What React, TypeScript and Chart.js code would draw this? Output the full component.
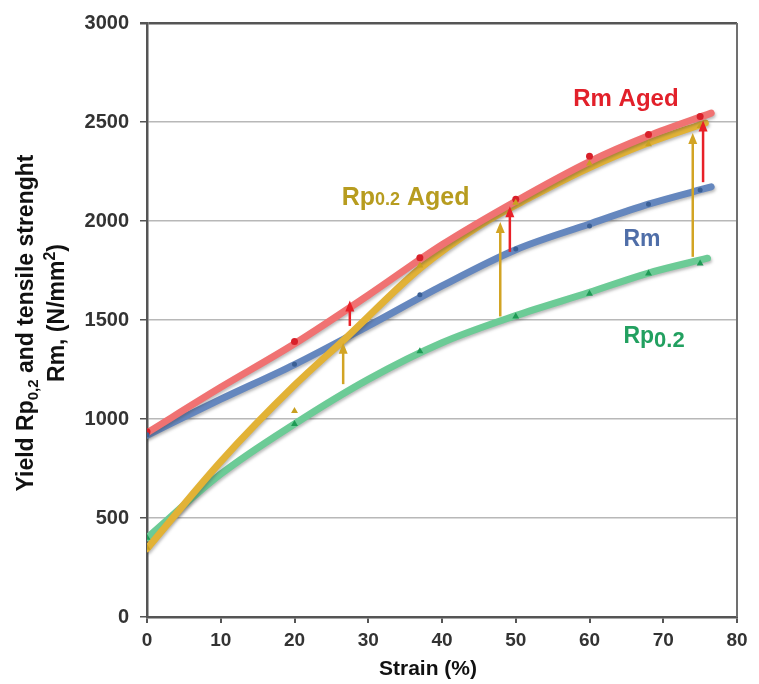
import React, { useEffect, useRef } from 'react';
import { Chart, registerables } from 'chart.js';

Chart.register(...registerables);

// ---------- data ----------
const X_MIN = 0;
const X_MAX = 80;
const X_STEP = 10;
const Y_MIN = 0;
const Y_MAX = 3000;
const Y_STEP = 500;

// fitted curves
const RM_AGED_CURVE_X = [0, 10, 20, 30, 40, 50, 60, 68, 76.5];
const RM_AGED_CURVE_Y = [930, 1160, 1380, 1625, 1880, 2100, 2300, 2430, 2545];

const RM_CURVE_X = [0, 10, 20, 30, 40, 50, 60, 68, 76.5];
const RM_CURVE_Y = [918, 1100, 1275, 1470, 1672, 1855, 1985, 2085, 2172];

const RP_AGED_CURVE_X = [0, 10, 20, 27, 37, 45, 52, 60, 68, 75.7];
const RP_AGED_CURVE_Y = [345, 785, 1170, 1410, 1760, 1975, 2120, 2270, 2395, 2495];

const RP_CURVE_X = [0, 10, 20, 30, 40, 50, 60, 68, 76];
const RP_CURVE_Y = [400, 722, 975, 1200, 1385, 1522, 1640, 1737, 1812];

// measured points
const RM_AGED_PTS_X = [0, 20, 37, 50, 60, 68, 75];
const RM_AGED_PTS_Y = [935, 1392, 1815, 2110, 2327, 2437, 2528];

const RM_PTS_X = [0, 20, 37, 50, 60, 68, 75];
const RM_PTS_Y = [920, 1276, 1628, 1859, 1975, 2085, 2156];

const RP_AGED_PTS_X = [0, 20, 37, 50, 60, 68, 75];
const RP_AGED_PTS_Y = [350, 1040, 1775, 2092, 2290, 2388, 2480];

const RP_PTS_X = [0, 20, 37, 50, 60, 68, 75];
const RP_PTS_Y = [400, 975, 1342, 1518, 1633, 1735, 1785];

// ageing arrows
const GOLD_ARROW_X = [26.6, 47.9, 74.0];
const GOLD_ARROW_FROM = [1176, 1518, 1819];
const GOLD_ARROW_TO = [1385, 1995, 2445];

const RED_ARROW_X = [27.5, 49.2, 75.4];
const RED_ARROW_FROM = [1470, 1844, 2196];
const RED_ARROW_TO = [1598, 2075, 2508];

// labels
const X_TITLE = 'Strain (%)';
const Y_TITLE_LINE1 = [
  { t: 'Yield Rp', sub: false },
  { t: '0,2', sub: true },
  { t: ' and tensile strenght', sub: false },
];
const Y_TITLE_LINE2 = [
  { t: 'Rm, (N/mm', sup: false },
  { t: '2', sup: true },
  { t: ')', sup: false },
];

const COLORS = {
  rmAged: '#f07272',
  rmAgedPt: '#d8202a',
  rm: '#6587be',
  rmPt: '#3a5f95',
  rpAged: '#e2b236',
  rpAgedPt: '#c9a020',
  rp: '#6ccb96',
  rpPt: '#1e9a55',
  redArrow: '#e82028',
  goldArrow: '#d2a424',
  redText: '#e2202a',
  goldText: '#b79c1f',
  blueText: '#4f6ea8',
  greenText: '#22a060',
};

const FONT = '"Liberation Sans", Arial, sans-serif';

function zip(xs: number[], ys: number[]) {
  return xs.map((x, i) => ({ x, y: ys[i] }));
}

const overlayPlugin = {
  id: 'overlay',
  beforeDatasetDraw(chart: any, args: any) {
    const ds = chart.data.datasets[args.index];
    if (ds.shadow) {
      const ctx = chart.ctx;
      ctx.save();
      ctx.shadowColor = 'rgba(60,60,60,0.35)';
      ctx.shadowBlur = 3;
      ctx.shadowOffsetX = 1;
      ctx.shadowOffsetY = 2;
    }
  },
  afterDatasetDraw(chart: any, args: any) {
    const ds = chart.data.datasets[args.index];
    if (ds.shadow) chart.ctx.restore();
  },
  afterDatasetsDraw(chart: any) {
    const ctx = chart.ctx;
    const xs = chart.scales.x;
    const ys = chart.scales.y;
    const ca = chart.chartArea;

    // right border
    ctx.save();
    ctx.strokeStyle = '#707070';
    ctx.lineWidth = 2;
    ctx.beginPath();
    ctx.moveTo(ca.right, ca.top);
    ctx.lineTo(ca.right, ca.bottom);
    ctx.stroke();
    ctx.restore();

    const drawArrow = (x: number, y0: number, y1: number, color: string) => {
      const px = xs.getPixelForValue(x);
      const p0 = ys.getPixelForValue(y0);
      const p1 = ys.getPixelForValue(y1);
      ctx.save();
      ctx.strokeStyle = color;
      ctx.fillStyle = color;
      ctx.lineWidth = 2.5;
      ctx.beginPath();
      ctx.moveTo(px, p0);
      ctx.lineTo(px, p1 + 9);
      ctx.stroke();
      ctx.beginPath();
      ctx.moveTo(px, p1);
      ctx.lineTo(px - 4.5, p1 + 11);
      ctx.lineTo(px + 4.5, p1 + 11);
      ctx.closePath();
      ctx.fill();
      ctx.restore();
    };
    GOLD_ARROW_X.forEach((x, i) => drawArrow(x, GOLD_ARROW_FROM[i], GOLD_ARROW_TO[i], COLORS.goldArrow));
    RED_ARROW_X.forEach((x, i) => drawArrow(x, RED_ARROW_FROM[i], RED_ARROW_TO[i], COLORS.redArrow));

    // series labels
    const drawSegs = (
      xVal: number,
      yVal: number,
      segs: { t: string; size: number; dy: number }[],
      color: string
    ) => {
      let px = xs.getPixelForValue(xVal);
      const py = ys.getPixelForValue(yVal);
      ctx.save();
      ctx.fillStyle = color;
      ctx.textBaseline = 'alphabetic';
      ctx.textAlign = 'left';
      segs.forEach((s) => {
        ctx.font = `bold ${s.size}px ${FONT}`;
        ctx.fillText(s.t, px, py + s.dy);
        px += ctx.measureText(s.t).width;
      });
      ctx.restore();
    };
    drawSegs(57.8, 2580, [{ t: 'Rm Aged', size: 24, dy: 0 }], COLORS.redText);
    drawSegs(26.4, 2080, [
      { t: 'Rp', size: 25, dy: 0 },
      { t: '0.2', size: 18, dy: 0 },
      { t: ' Aged', size: 25, dy: 0 },
    ], COLORS.goldText);
    drawSegs(64.6, 1875, [{ t: 'Rm', size: 23, dy: 0 }], COLORS.blueText);
    drawSegs(64.6, 1385, [
      { t: 'Rp', size: 23, dy: 0 },
      { t: '0.2', size: 22, dy: 4 },
    ], COLORS.greenText);
  },
  afterDraw(chart: any) {
    const ctx = chart.ctx;
    const ca = chart.chartArea;
    // x title
    ctx.save();
    ctx.fillStyle = '#111';
    ctx.font = `bold 21px ${FONT}`;
    ctx.textAlign = 'center';
    ctx.textBaseline = 'alphabetic';
    ctx.fillText(X_TITLE, (ca.left + ca.right) / 2 - 14, 675);
    ctx.restore();

    // y title (two rotated lines)
    const drawRot = (cx: number, cy: number, segs: { t: string; size: number; dy: number }[]) => {
      ctx.save();
      ctx.translate(cx, cy);
      ctx.rotate(-Math.PI / 2);
      ctx.fillStyle = '#111';
      ctx.textBaseline = 'alphabetic';
      ctx.textAlign = 'left';
      let total = 0;
      segs.forEach((s) => {
        ctx.font = `bold ${s.size}px ${FONT}`;
        total += ctx.measureText(s.t).width;
      });
      let x = -total / 2;
      segs.forEach((s) => {
        ctx.font = `bold ${s.size}px ${FONT}`;
        ctx.fillText(s.t, x, s.dy);
        x += ctx.measureText(s.t).width;
      });
      ctx.restore();
    };
    drawRot(
      33,
      323,
      Y_TITLE_LINE1.map((s) => ({ t: s.t, size: s.sub ? 15 : 23, dy: s.sub ? 5 : 0 }))
    );
    drawRot(
      64,
      313,
      Y_TITLE_LINE2.map((s) => ({ t: s.t, size: s.sup ? 16 : 23, dy: s.sup ? -9 : 0 }))
    );
  },
};

export default function App() {
  const ref = useRef<HTMLCanvasElement | null>(null);

  useEffect(() => {
    if (!ref.current) return;
    const curve = (xs: number[], ys: number[], color: string, order: number) => ({
      data: zip(xs, ys),
      showLine: true,
      borderColor: color,
      borderWidth: 7,
      pointRadius: 0,
      cubicInterpolationMode: 'monotone' as const,
      borderCapStyle: 'round' as const,
      fill: false,
      order,
      shadow: true,
    });
    const pts = (xs: number[], ys: number[], color: string, style: string, r: number) => ({
      data: zip(xs, ys),
      showLine: false,
      pointStyle: style,
      pointRadius: r,
      pointBackgroundColor: color,
      pointBorderColor: color,
      pointBorderWidth: 0,
      order: 0,
    });

    const chart = new Chart(ref.current, {
      type: 'scatter',
      data: {
        datasets: [
          curve(RP_CURVE_X, RP_CURVE_Y, COLORS.rp, 5),
          curve(RM_CURVE_X, RM_CURVE_Y, COLORS.rm, 4),
          curve(RP_AGED_CURVE_X, RP_AGED_CURVE_Y, COLORS.rpAged, 3),
          curve(RM_AGED_CURVE_X, RM_AGED_CURVE_Y, COLORS.rmAged, 2),
          pts(RP_PTS_X, RP_PTS_Y, COLORS.rpPt, 'triangle', 4),
          pts(RM_PTS_X, RM_PTS_Y, COLORS.rmPt, 'circle', 2.5),
          pts(RP_AGED_PTS_X, RP_AGED_PTS_Y, COLORS.rpAgedPt, 'triangle', 4),
          pts(RM_AGED_PTS_X, RM_AGED_PTS_Y, COLORS.rmAgedPt, 'circle', 3.5),
        ] as any,
      },
      options: {
        responsive: false,
        maintainAspectRatio: false,
        animation: false,
        layout: { padding: { left: 0, right: 22, top: 20, bottom: 0 } },
        plugins: {
          legend: { display: false },
          tooltip: { enabled: false },
        },
        scales: {
          x: {
            type: 'linear',
            min: X_MIN,
            max: X_MAX,
            afterFit: (s: any) => {
              s.height = 67;
            },
            ticks: {
              stepSize: X_STEP,
              color: '#333',
              font: { family: FONT, size: 19, weight: 'bold' },
              padding: 6,
              callback: (v: any) => String(v),
            },
            grid: {
              drawOnChartArea: false,
              tickLength: 6,
              tickColor: '#555',
              lineWidth: 2,
            },
            border: { display: true, color: '#555', width: 2.5 },
          },
          y: {
            type: 'linear',
            min: Y_MIN,
            max: Y_MAX,
            afterFit: (s: any) => {
              s.width = 147;
            },
            ticks: {
              stepSize: Y_STEP,
              color: '#333',
              font: { family: FONT, size: 20, weight: 'bold' },
              padding: 11,
              callback: (v: any) => String(v),
            },
            grid: {
              color: (c: any) => (c.tick && c.tick.value === Y_MAX ? '#555' : '#b8b8b8'),
              lineWidth: (c: any) => (c.tick && c.tick.value === Y_MAX ? 2.5 : 1.5),
              tickLength: 7,
              tickColor: '#555',
            },
            border: { display: true, color: '#555', width: 2.5 },
          },
        },
      } as any,
      plugins: [overlayPlugin],
    });
    return () => chart.destroy();
  }, []);

  return (
    <div style={{ position: 'fixed', left: 0, top: 0, width: 759, height: 684, background: '#fff' }}>
      <canvas ref={ref} width={759} height={684} style={{ width: 759, height: 684 }} />
    </div>
  );
}
